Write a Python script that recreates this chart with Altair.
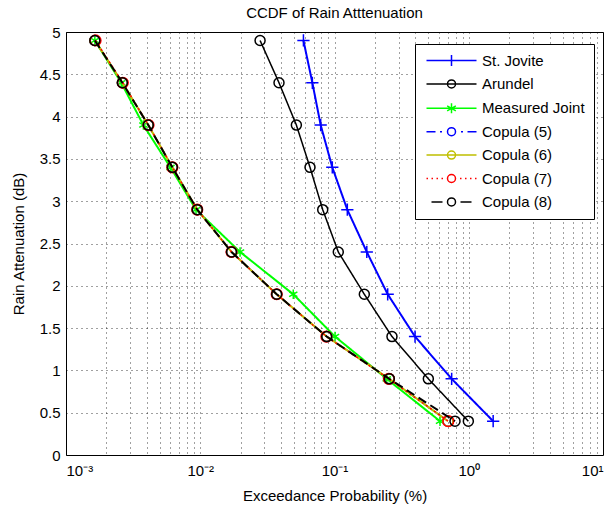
import altair as alt
import pandas as pd

# ---- data ----
atten = [4.9, 4.4, 3.9, 3.4, 2.9, 2.4, 1.9, 1.4, 0.9, 0.4]
st_jovite = [0.0587, 0.0684, 0.0789, 0.0963, 0.1246, 0.174, 0.249, 0.398, 0.746, 1.52]
arundel = [0.0279, 0.0386, 0.052, 0.0657, 0.0817, 0.1067, 0.1668, 0.268, 0.500, 0.993]
measured = [0.00164, 0.00258, 0.00377, 0.0060, 0.0093, 0.0198, 0.0493, 0.1009, 0.245, 0.611]
copula5 = [0.00164, 0.00263, 0.0041, 0.0062, 0.0095, 0.0171, 0.0371, 0.0875, 0.256, 0.70]
copula6 = [0.00164, 0.00263, 0.0041, 0.0062, 0.0095, 0.0171, 0.0371, 0.0875, 0.256, 0.70]
copula7 = [0.00166, 0.00265, 0.00412, 0.0062, 0.0095, 0.0171, 0.0371, 0.0870, 0.254, 0.704]
copula8 = [0.00164, 0.00263, 0.0041, 0.0062, 0.0095, 0.0171, 0.0371, 0.0875, 0.256, 0.79]

series_names = ["St. Jovite", "Arundel", "Measured Joint", "Copula (5)",
                "Copula (6)", "Copula (7)", "Copula (8)"]
series_values = [st_jovite, arundel, measured, copula5, copula6, copula7, copula8]
series_colors = ["#0000ff", "#000000", "#00ff00", "#0000ff", "#bfbf00", "#ff0000", "#000000"]

x_ticks = [m * 10.0 ** e for e in range(-3, 1) for m in range(1, 10)] + [10.0]
y_ticks = [0, 0.5, 1, 1.5, 2, 2.5, 3, 3.5, 4, 4.5, 5]

rows = []
for name, vals in zip(series_names, series_values):
    for a, p in zip(atten, vals):
        rows.append({"series": name, "p": p, "atten": a})
df = pd.DataFrame(rows)

# ---- styles ----
FONT = "Liberation Sans"
CIRCLE = "circle"
CROSS = "M0,-1V1M-1,0H1"
STAR = "M0,-1V1M-0.87,-0.5L0.87,0.5M-0.87,0.5L0.87,-0.5"
styles = {
    "St. Jovite": dict(dash=[1, 0], width=2, shape=CROSS, size=150),
    "Arundel": dict(dash=[1, 0], width=1.5, shape=CIRCLE, size=100),
    "Measured Joint": dict(dash=[1, 0], width=2, shape=STAR, size=90),
    "Copula (5)": dict(dash=[8, 3, 2, 3], width=1.5, shape=CIRCLE, size=100),
    "Copula (6)": dict(dash=[1, 0], width=2, shape=CIRCLE, size=100),
    "Copula (7)": dict(dash=[2, 3], width=1.5, shape=CIRCLE, size=115),
    "Copula (8)": dict(dash=[9, 5], width=2, shape=CIRCLE, size=100),
}

# legend symbols: line + marker drawn as one path (1 unit = 5 px)
circ = "M-0.8,0A0.8,0.8 0 1,0 0.8,0A0.8,0.8 0 1,0 -0.8,0"
legend_paths = [
    "M-5,0H5M0,-1.1V1.1",
    "M-5,0H5" + circ,
    "M-5,0H5M0,-1V1M-0.87,-0.5L0.87,0.5M-0.87,0.5L0.87,-0.5",
    "M-5,0H-3.2M-2.3,0H-1.9M1.9,0H2.3M3.2,0H5" + circ,
    "M-5,0H5" + circ,
    "M-5,0H-4.7M-4,0H-3.7M-3,0H-2.7M-2,0H-1.7M1.7,0H2M2.7,0H3M3.7,0H4M4.7,0H5" + circ,
    "M-4,0H-1.8M1.8,0H4" + circ,
]

label_expr = ("datum.value == 0.001 ? '10⁻³' : datum.value == 0.01 ? '10⁻²' : "
              "datum.value == 0.1 ? '10⁻¹' : datum.value == 1 ? '10⁰' : "
              "datum.value == 10 ? '10¹' : ''")

x_enc = alt.X("p:Q",
              scale=alt.Scale(type="log", domain=[0.001, 10], nice=False),
              axis=alt.Axis(values=x_ticks, labelExpr=label_expr,
                            title="Exceedance Probability (%)",
                            labelFontSize=15, titleFontSize=15,
                            titleFontWeight="normal",
                            labelPadding=8, titlePadding=10))
y_enc = alt.Y("atten:Q",
              scale=alt.Scale(domain=[0, 5], nice=False),
              axis=alt.Axis(values=y_ticks, labelExpr="toString(datum.value)",
                            title="Rain Attenuation (dB)",
                            labelFontSize=15, titleFontSize=15,
                            titleFontWeight="normal",
                            labelPadding=6, titlePadding=13))

layers = []
for name, color in zip(series_names, series_colors):
    st = styles[name]
    base = alt.Chart(df).transform_filter(alt.datum.series == name)
    line = base.mark_line(color=color, strokeWidth=st["width"],
                          strokeDash=st["dash"]).encode(x=x_enc, y=y_enc)
    pts = base.mark_point(shape=st["shape"], size=st["size"], color=color,
                          filled=False, strokeWidth=1.5,
                          opacity=1).encode(x=x_enc, y=y_enc)
    layers += [line, pts]

leg_props = dict(title=None, orient="none", legendX=349, legendY=12,
                 strokeColor="black", fillColor="white", padding=9,
                 symbolSize=100, symbolStrokeWidth=1.5, symbolOffset=20,
                 labelOffset=23, labelFont=FONT, labelFontSize=15,
                 labelColor="black", rowPadding=7.4, cornerRadius=0)

legend_layer = alt.Chart(df).transform_filter("false").mark_point(
    filled=False, strokeWidth=1.5, opacity=1
).encode(
    x=x_enc, y=y_enc,
    color=alt.Color("series:N", scale=alt.Scale(domain=series_names, range=series_colors),
                    legend=alt.Legend(**leg_props)),
    shape=alt.Shape("series:N", scale=alt.Scale(domain=series_names, range=legend_paths),
                    legend=alt.Legend(**leg_props)),
)
layers.append(legend_layer)

chart = alt.layer(*layers).properties(
    width=537, height=423,
    padding={"left": 66, "top": 32, "right": 10, "bottom": 57},
    autosize="none",
    background="white",
    title=alt.TitleParams("CCDF of Rain Atttenuation", fontSize=15,
                          fontWeight="normal", font=FONT, color="black",
                          offset=4, anchor="middle"),
).configure_view(
    stroke="black", strokeWidth=1
).configure_axis(
    labelFont=FONT, titleFont=FONT, labelColor="black", titleColor="black",
    titleFontWeight="normal", domain=False, ticks=False,
    grid=True, gridColor="#000000", gridDash=[1, 4], gridOpacity=0.75, gridWidth=1,
)

chart.save("out.html", embed_options={"renderer": "svg", "actions": False})
